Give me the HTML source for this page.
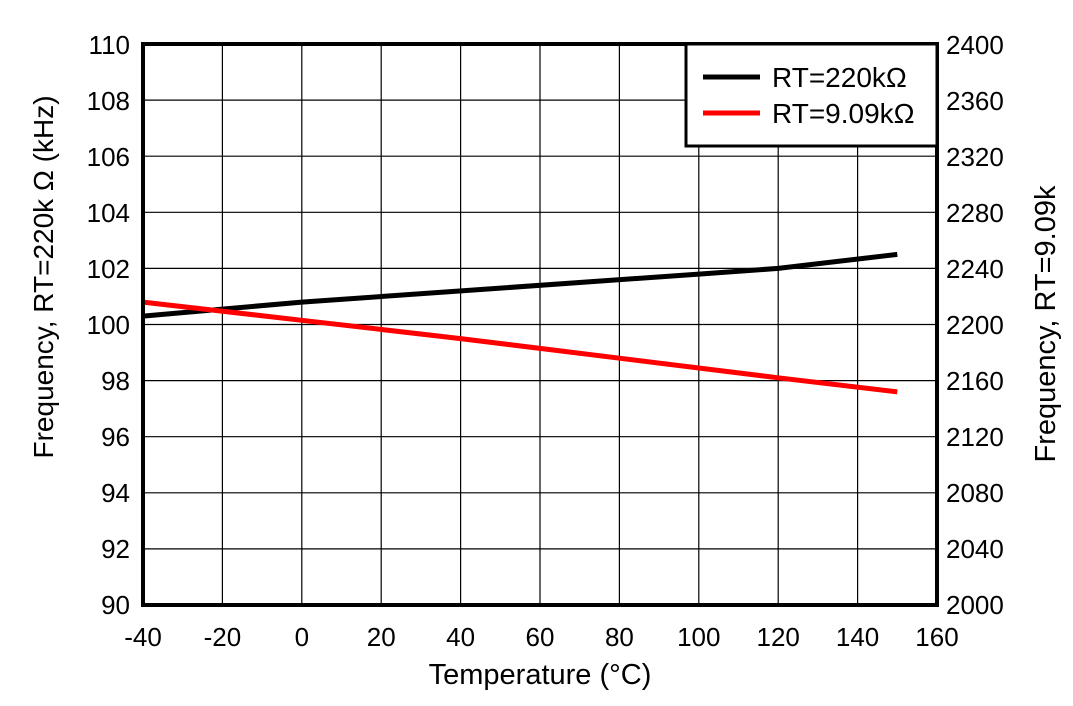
<!DOCTYPE html><html><head><style>body{margin:0;background:#fff}</style></head><body>
<svg width="1073" height="701" xmlns="http://www.w3.org/2000/svg" font-family="Liberation Sans, Arial, sans-serif" font-size="26">
<g stroke="#000" stroke-width="1.2">
<line x1="222.4" y1="44" x2="222.4" y2="605"/><line x1="301.8" y1="44" x2="301.8" y2="605"/><line x1="381.2" y1="44" x2="381.2" y2="605"/><line x1="460.6" y1="44" x2="460.6" y2="605"/><line x1="540" y1="44" x2="540" y2="605"/><line x1="619.4" y1="44" x2="619.4" y2="605"/><line x1="698.8" y1="44" x2="698.8" y2="605"/><line x1="778.2" y1="44" x2="778.2" y2="605"/><line x1="857.6" y1="44" x2="857.6" y2="605"/>
<line x1="143" y1="100.1" x2="937" y2="100.1"/><line x1="143" y1="156.2" x2="937" y2="156.2"/><line x1="143" y1="212.3" x2="937" y2="212.3"/><line x1="143" y1="268.4" x2="937" y2="268.4"/><line x1="143" y1="324.5" x2="937" y2="324.5"/><line x1="143" y1="380.6" x2="937" y2="380.6"/><line x1="143" y1="436.7" x2="937" y2="436.7"/><line x1="143" y1="492.8" x2="937" y2="492.8"/><line x1="143" y1="548.9" x2="937" y2="548.9"/>
</g>
<polyline fill="none" stroke="#000" stroke-width="5" points="143,316.1 301.8,302.1 500.3,288.1 698.8,274.1 778.2,268.4 897.3,254.4"/>
<polyline fill="none" stroke="#f00" stroke-width="5" points="143,302.1 301.8,320.3 460.6,338.6 619.4,358.2 778.2,377.8 897.3,391.9"/>
<rect x="143" y="44" width="794" height="561" fill="none" stroke="#000" stroke-width="4"/>
<rect x="686" y="44" width="251" height="102" fill="#fff" stroke="#000" stroke-width="3"/>
<line x1="703" y1="77" x2="760" y2="77" stroke="#000" stroke-width="5"/>
<line x1="703" y1="113" x2="760" y2="113" stroke="#f00" stroke-width="5"/>
<g font-size="28"><text x="772" y="87">RT=220kΩ</text><text x="772" y="123">RT=9.09kΩ</text></g>
<g text-anchor="end">
<text x="130" y="54">110</text><text x="130" y="110">108</text><text x="130" y="166">106</text><text x="130" y="222">104</text><text x="130" y="278">102</text><text x="130" y="334">100</text><text x="130" y="390">98</text><text x="130" y="446">96</text><text x="130" y="502">94</text><text x="130" y="558">92</text><text x="130" y="614">90</text>
</g>
<g>
<text x="946" y="54">2400</text><text x="946" y="110">2360</text><text x="946" y="166">2320</text><text x="946" y="222">2280</text><text x="946" y="278">2240</text><text x="946" y="334">2200</text><text x="946" y="390">2160</text><text x="946" y="446">2120</text><text x="946" y="502">2080</text><text x="946" y="558">2040</text><text x="946" y="614">2000</text>
</g>
<g text-anchor="middle">
<text x="143" y="646">-40</text><text x="222.4" y="646">-20</text><text x="301.8" y="646">0</text><text x="381.2" y="646">20</text><text x="460.6" y="646">40</text><text x="540" y="646">60</text><text x="619.4" y="646">80</text><text x="698.8" y="646">100</text><text x="778.2" y="646">120</text><text x="857.6" y="646">140</text><text x="937" y="646">160</text>
<g font-size="29">
<text x="540" y="684">Temperature (°C)</text>
<text font-size="28" transform="translate(53,277) rotate(-90)">Frequency, RT=220k Ω (kHz)</text>
<text transform="translate(1055,324) rotate(-90)">Frequency, RT=9.09k</text>
</g>
</g>
</svg></body></html>
